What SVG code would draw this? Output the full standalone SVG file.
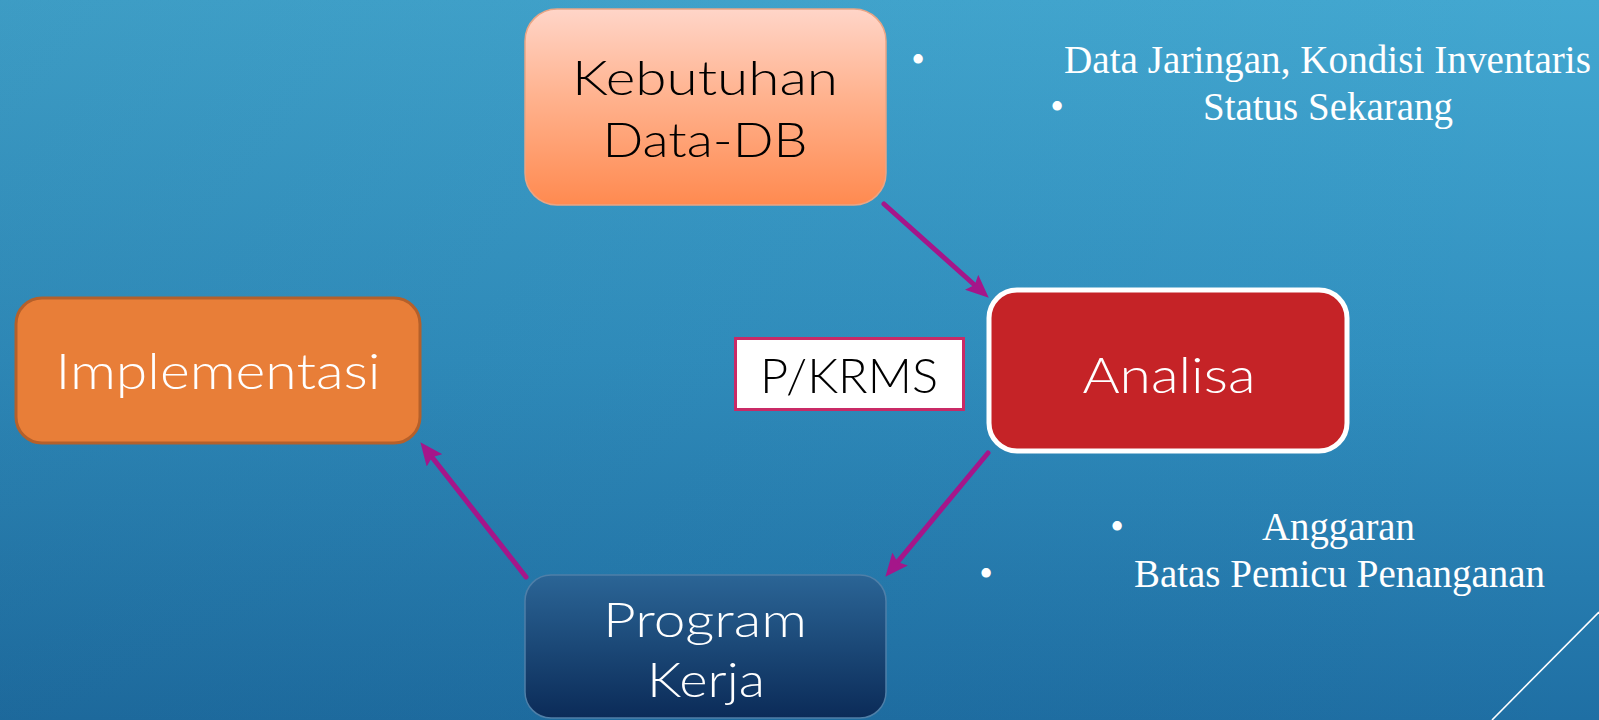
<svg xmlns="http://www.w3.org/2000/svg" width="1599" height="720" viewBox="0 0 1599 720">
  <defs>
    <linearGradient id="bg" x1="0" y1="0" x2="0" y2="1">
      <stop offset="0" stop-color="#43A8D1"/>
      <stop offset="0.5" stop-color="#3190C0"/>
      <stop offset="1" stop-color="#1F6FA4"/>
    </linearGradient>
    <linearGradient id="bgH" x1="0" y1="0" x2="1" y2="0">
      <stop offset="0" stop-color="#0A3050" stop-opacity="0.10"/>
      <stop offset="1" stop-color="#0A3050" stop-opacity="0"/>
    </linearGradient>
    <linearGradient id="gPeach" x1="0" y1="0" x2="0" y2="1">
      <stop offset="0" stop-color="#FFD5C8"/>
      <stop offset="0.45" stop-color="#FFB28E"/>
      <stop offset="1" stop-color="#FF8A50"/>
    </linearGradient>
    <linearGradient id="gNavy" x1="0" y1="0" x2="0" y2="1">
      <stop offset="0" stop-color="#2B6596"/>
      <stop offset="1" stop-color="#0B2B58"/>
    </linearGradient>
    <marker id="ah" markerUnits="userSpaceOnUse" markerWidth="23" markerHeight="20" viewBox="0 -10 23 20" refX="4" refY="0" orient="auto">
      <path d="M0,-10 L23,0 L0,10 L4,0 z" fill="#A5168A"/>
    </marker>
    <style>
      .lbl { font-family: "Lato", "Noto Sans", "DejaVu Sans", sans-serif; font-weight: 300; text-anchor: middle; }
      .note { font-family: "Liberation Serif", "Times New Roman", serif; fill: #FFFFFF; font-size: 39px; }
      .bul { font-family: "Liberation Serif", serif; fill: #FFFFFF; font-size: 39px; text-anchor: middle; }
      .conn { stroke: #A5168A; stroke-width: 5; stroke-linecap: round; fill: none; marker-end: url(#ah); }
    </style>
  </defs>

  <rect x="0" y="0" width="1599" height="720" fill="url(#bg)"/>
  <rect x="0" y="0" width="1599" height="720" fill="url(#bgH)"/>
  <line x1="1599" y1="612" x2="1492" y2="720" stroke="#FFFFFF" stroke-width="1.6"/>

  <g id="connectors">
    <line class="conn" x1="884" y1="204" x2="974.6" y2="285.0"/>
    <line class="conn" x1="988" y1="453" x2="897.5" y2="562.1"/>
    <line class="conn" x1="526" y1="577" x2="432.1" y2="457.2"/>
  </g>

  <g id="node-kebutuhan">
    <rect x="525" y="9" width="361" height="196" rx="32" fill="url(#gPeach)" stroke="#E9A585" stroke-width="1.5"/>
    <text class="lbl" x="705" y="95" font-size="48" fill="#000000" textLength="266" lengthAdjust="spacingAndGlyphs">Kebutuhan</text>
    <text class="lbl" x="705" y="157" font-size="48" fill="#000000" textLength="205" lengthAdjust="spacingAndGlyphs">Data-DB</text>
  </g>

  <g id="node-analisa">
    <rect x="989" y="290" width="358" height="161" rx="28" fill="#C52327" stroke="#FFFFFF" stroke-width="5"/>
    <text class="lbl" x="1169" y="393" font-size="50" fill="#FFFFFF" textLength="173" lengthAdjust="spacingAndGlyphs">Analisa</text>
  </g>

  <g id="node-pkrms">
    <rect x="735.5" y="338.5" width="228" height="71" fill="#FFFFFF" stroke="#C92A66" stroke-width="3"/>
    <text class="lbl" x="849" y="393" font-size="48" fill="#000000" textLength="178" lengthAdjust="spacingAndGlyphs">P/KRMS</text>
  </g>

  <g id="node-implementasi">
    <rect x="16" y="298" width="404" height="145" rx="26" fill="#E87E38" stroke="#B4602B" stroke-width="3"/>
    <text class="lbl" x="218" y="389" font-size="50" fill="#FFFFFF" textLength="325" lengthAdjust="spacingAndGlyphs">Implementasi</text>
  </g>

  <g id="node-program">
    <rect x="525" y="575" width="361" height="143" rx="26" fill="url(#gNavy)" stroke="#4F7FA8" stroke-width="1.5"/>
    <text class="lbl" x="705" y="637" font-size="48" fill="#FFFFFF" textLength="204" lengthAdjust="spacingAndGlyphs">Program</text>
    <text class="lbl" x="706" y="697" font-size="48" fill="#FFFFFF" textLength="118" lengthAdjust="spacingAndGlyphs">Kerja</text>
  </g>

  <g id="notes-top">
    <text class="bul" x="918" y="73">•</text>
    <text class="note" x="1064" y="73" textLength="527" lengthAdjust="spacingAndGlyphs">Data Jaringan, Kondisi Inventaris</text>
    <text class="bul" x="1057" y="120">•</text>
    <text class="note" x="1203" y="120" textLength="250" lengthAdjust="spacingAndGlyphs">Status Sekarang</text>
  </g>

  <g id="notes-bottom">
    <text class="bul" x="1117" y="540">•</text>
    <text class="note" x="1262" y="540" textLength="153" lengthAdjust="spacingAndGlyphs">Anggaran</text>
    <text class="bul" x="986" y="587">•</text>
    <text class="note" x="1134" y="587" textLength="411" lengthAdjust="spacingAndGlyphs">Batas Pemicu Penanganan</text>
  </g>
</svg>
